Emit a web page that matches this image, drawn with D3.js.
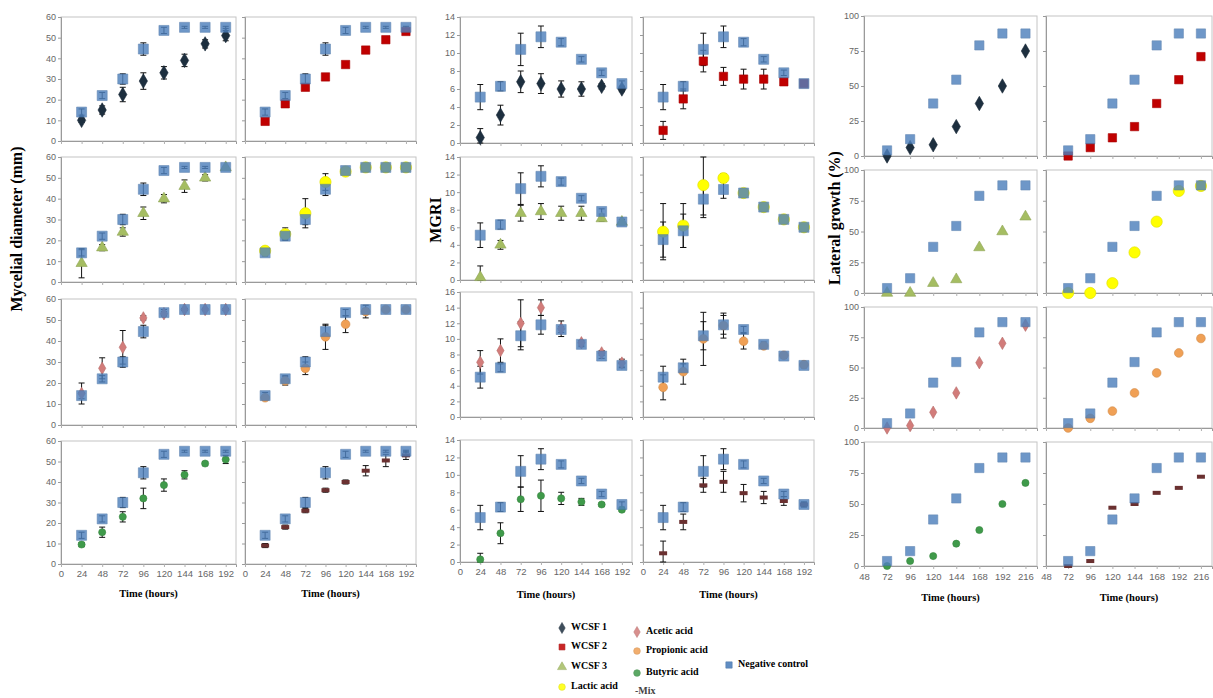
<!DOCTYPE html>
<html><head><meta charset="utf-8">
<script src="https://cdn.jsdelivr.net/npm/d3@7"></script>
<style>body{margin:0;background:#fff;overflow:hidden} svg{display:block}</style>
</head><body>
<svg id="c" width="1213" height="698"></svg>
<script>
// ---------------- DATA ----------------
const hoursDia = [24,48,72,96,120,144,168,192];
const hoursMgri = [24,48,72,96,120,144,168,192];
const hoursLat = [72,96,120,144,168,192,216];
const treatments = ["WCSF 1","WCSF 2","WCSF 3","Lactic acid","Acetic acid","Propionic acid","Butyric acid","Mix"];
const controlName = "Negative control";

const diaTicksX = [0,24,48,72,96,120,144,168,192];
const latTicksX = [48,72,96,120,144,168,192,216];
const diaTicksY = [0,10,20,30,40,50,60];
const mgriTicksY = [0,2,4,6,8,10,12,14];
const mgriTicksY16 = [0,2,4,6,8,10,12,14,16];
const latTicksY = [0,25,50,75,100];

// Mycelial diameter (mm)
const diaControl    = [14,22,30,44.5,53.5,55,55,55];
const diaControlErr = [1.5,1.5,2.5,3,1.5,0.5,0.5,0.5];
const diaWCSF1      = [10,15,22.5,29,33,39,47,51];
const diaWCSF1Err   = [1,2,3.5,4,3,3,2,2.5];
const diaWCSF2      = [9.5,18,26,31,37,44,49,53];
const diaWCSF2Err   = [1,1,1,1,1,1,1,1];
const diaWCSF3      = [9,16.5,24,33,40,46,50,55];
const diaWCSF3Err   = [7,1.5,2,3,2,3,1.5,0];
const diaLactic     = [15,23,33,48,53,55,55,55];
const diaLacticErr  = [1,3,7,4,1,0.5,0.5,0.5];
const diaAcetic     = [15,27,37,51,53,55,55,55];
const diaAceticErr  = [5,5,8,1,1,0.5,0.5,0.5];
const diaPropionic  = [13,21,27,42,48,54,55,55];
const diaPropionicErr=[1,2,3,6,4,3,0.5,0.5];
const diaButyric    = [9.5,15.5,23,32,38.5,43.5,49,51];
const diaButyricErr = [1,2.5,2.5,5,3,2,1,2];
const diaMix        = [9,18,26,36,40,45.5,50.5,53];
const diaMixErr     = [1,1,1,1,1,2.5,3,2];

// MGRI
const mgriControl      = [5.1,6.3,10.4,11.8,11.2,9.3,7.8,6.6];
const mgriControlErr   = [1.4,0.5,1.8,1.2,0.4,0.3,0.3,0.3];
const mgriControlLactic= [4.6,5.6,9.2,10.3,9.9,8.3,6.9,6.0];
const mgriControlLacticErr=[2,1.9,1.8,1,0.4,0.2,0.2,0.2];
const mgriWCSF1     = [0.6,3.1,6.8,6.6,6.0,6.0,6.3,6.0];
const mgriWCSF1Err  = [1,1.1,1.2,1.1,0.9,0.8,0.3,0.3];
const mgriWCSF2     = [1.4,4.9,9.1,7.4,7.1,7.1,6.8,6.6];
const mgriWCSF2Err  = [1,1.1,1.2,1,1.1,1.1,0.3,0.3];
const mgriWCSF3     = [0.3,4.0,7.6,7.8,7.6,7.6,7.0,6.6];
const mgriWCSF3Err  = [1.3,0.5,0.9,0.9,0.8,0.8,0.3,0.3];
const mgriLactic    = [5.5,6.2,10.8,11.6,9.9,8.3,6.9,6.0];
const mgriLacticErr = [3.2,2.5,3.7,0.5,0.3,0.3,0.3,0.3];
const mgriAcetic    = [7.0,8.5,12.0,14.0,11.3,9.5,8.2,6.9];
const mgriAceticErr = [1.5,1.5,3,1,1,0.3,0.3,0.5];
const mgriPropionic = [3.8,5.8,10.0,11.7,9.7,9.1,7.9,6.7];
const mgriPropionicErr=[1.6,1.6,3.4,1.6,1,0.3,0.2,0.2];
const mgriButyric   = [0.3,3.3,7.2,7.6,7.3,6.9,6.6,6.0];
const mgriButyricErr= [0.7,1.2,1.4,1.8,0.7,0.4,0.2,0.2];
const mgriMix       = [1.0,4.6,8.8,9.2,7.9,7.4,7.0,6.6];
const mgriMixErr    = [1.4,0.9,0.8,1.2,1,0.7,0.5,0.2];

// Lateral growth (%)
const latControl   = [4,12,37.5,54.5,79,87.5,87.5];
const latWCSF1     = [0,6,8,21,37.5,50,75];
const latWCSF2     = [0,6,13,21,37.5,54.5,71];
const latWCSF3     = [0,0,8,11,37,50,62];
const latLactic    = [0,0,8,33,58,83,87];
const latAcetic    = [0,2,13,29,54,70,85];
const latPropionic = [0,8,14,29,45.5,62,74];
const latButyric   = [0,4,8,18,29,50,67];
const latMix       = [0,4,47,50,59,63,72];

// ---------------- STYLES / LAYOUT ----------------
const styles = [
  {type:"diamond", fill:"#1d2f3f", size:60},
  {type:"square",  fill:"#c00000", size:70},
  {type:"triangle",fill:"#a5bd62", size:55},
  {type:"circle",  fill:"#ffff00", size:100},
  {type:"diamond", fill:"#d27c7a", size:45},
  {type:"circle",  fill:"#f0a055", size:60},
  {type:"circle",  fill:"#3f9a4a", size:40},
  {type:"dash",    fill:"#6a3030", size:0}
];
const ctrlStyle = {type:"square", fill:"#4f81bd", size:100};

const diaVals = [diaWCSF1,diaWCSF2,diaWCSF3,diaLactic,diaAcetic,diaPropionic,diaButyric,diaMix];
const diaErrs = [diaWCSF1Err,diaWCSF2Err,diaWCSF3Err,diaLacticErr,diaAceticErr,diaPropionicErr,diaButyricErr,diaMixErr];
const mgriVals = [mgriWCSF1,mgriWCSF2,mgriWCSF3,mgriLactic,mgriAcetic,mgriPropionic,mgriButyric,mgriMix];
const mgriErrs = [mgriWCSF1Err,mgriWCSF2Err,mgriWCSF3Err,mgriLacticErr,mgriAceticErr,mgriPropionicErr,mgriButyricErr,mgriMixErr];
const latVals = [latWCSF1,latWCSF2,latWCSF3,latLactic,latAcetic,latPropionic,latButyric,latMix];

const groups = [
  {cols:[[61,236],[245,416]], rows:[[17,141],[157,282],[299,425],[441,564]],
   xd:[0,204], xt:diaTicksX, yd:[[0,60],[0,60],[0,60],[0,60]], yt:[diaTicksY,diaTicksY,diaTicksY,diaTicksY],
   hours:hoursDia, vals:diaVals, errs:diaErrs, ctrl:i=>[diaControl,diaControlErr], ctrlSize:100,
   xlabY:578, titleY:595, ylab:"Mycelial diameter (mm)", ylabX:18, ylabY:229},
  {cols:[[460,632],[643,814]], rows:[[17,143],[157,280],[292,417],[440,562]],
   xd:[0,204], xt:diaTicksX, yd:[[0,14],[0,14],[0,16],[0,14]], yt:[mgriTicksY,mgriTicksY,mgriTicksY16,mgriTicksY],
   hours:hoursMgri, vals:mgriVals, errs:mgriErrs,
   ctrl:i=> i===3 ? [mgriControlLactic,mgriControlLacticErr] : [mgriControl,mgriControlErr], ctrlSize:100,
   xlabY:576, titleY:596, ylab:"MGRI", ylabX:437, ylabY:220},
  {cols:[[864,1037],[1046,1212]], rows:[[16,156],[170,293],[307,428],[442,566]],
   xd:[48,228], xt:latTicksX, yd:[[0,100],[0,100],[0,100],[0,100]], yt:[latTicksY,latTicksY,latTicksY,latTicksY],
   hours:hoursLat, vals:latVals, errs:null, ctrl:i=>[latControl,null], ctrlSize:85,
   xlabY:581, titleY:599, ylab:"Lateral growth (%)", ylabX:836, ylabY:218}
];

const svg = d3.select("#c");
const tickFont = "Liberation Sans, Arial, sans-serif";
const serif = "Liberation Serif, Times New Roman, serif";

function drawMarker(sel, st, x, y, opacity) {
  if (st.type === "dash") {
    sel.append("rect").attr("x", x-4).attr("y", y-2).attr("width", 8).attr("height", 4)
      .attr("fill", st.fill).attr("opacity", opacity||1);
    return;
  }
  const sym = {diamond:d3.symbolDiamond, square:d3.symbolSquare, triangle:d3.symbolTriangle, circle:d3.symbolCircle}[st.type];
  sel.append("path").attr("d", d3.symbol().type(sym).size(st.size)())
    .attr("transform", `translate(${x},${y})`)
    .attr("fill", st.fill).attr("opacity", opacity||1)
    .attr("stroke", d3.color(st.fill).darker(0.4)).attr("stroke-width", 0.6);
}

function drawErr(g, x, y0, y1) {
  g.append("line").attr("x1",x).attr("x2",x).attr("y1",y0).attr("y2",y1).attr("stroke","#111").attr("stroke-width",1);
  [y0,y1].forEach(yy => g.append("line").attr("x1",x-3).attr("x2",x+3).attr("y1",yy).attr("y2",yy).attr("stroke","#111").attr("stroke-width",1));
}

groups.forEach((G) => {
  G.rows.forEach((r, ri) => {
    G.cols.forEach((c, ci) => {
      const ti = ri*2 + ci;
      const x = d3.scaleLinear().domain(G.xd).range(c);
      const y = d3.scaleLinear().domain(G.yd[ri]).range([r[1], r[0]]);
      const yc = y.copy().clamp(true);
      const g = svg.append("g");
      g.append("rect").attr("x", c[0]).attr("y", r[0]).attr("width", c[1]-c[0]).attr("height", r[1]-r[0])
        .attr("fill","none").attr("stroke","#c4c4c4").attr("stroke-width",1);
      const ya = d3.axisLeft(y).tickValues(G.yt[ri]).tickSize(3).tickFormat(ci===0 ? d3.format("d") : "");
      const yg = g.append("g").attr("transform", `translate(${c[0]},0)`).call(ya);
      yg.select(".domain").attr("stroke","#9a9a9a");
      yg.selectAll(".tick line").attr("stroke","#9a9a9a");
      yg.selectAll("text").attr("fill","#666").style("font-family",tickFont).style("font-size","9px").attr("x",-5);
      const last = ri === G.rows.length-1;
      const xa = d3.axisBottom(x).tickValues(G.xt).tickSize(3).tickFormat(last ? d3.format("d") : "");
      const xg = g.append("g").attr("transform", `translate(0,${r[1]})`).call(xa);
      xg.select(".domain").attr("stroke","#9a9a9a");
      xg.selectAll(".tick line").attr("stroke","#b0b0b0");
      xg.selectAll("text").attr("fill","#666").style("font-family",tickFont).style("font-size","9.5px")
        .attr("y", G.xlabY - r[1] - 8).attr("dy","0.71em");
      if (last) {
        g.append("text").attr("x", (c[0]+c[1])/2).attr("y", G.titleY).attr("text-anchor","middle")
          .attr("dominant-baseline","middle")
          .style("font-family",serif).style("font-weight","bold").style("font-size","10.5px").text("Time (hours)");
      }
      const vals = G.vals[ti], errs = G.errs ? G.errs[ti] : null;
      const [cv, ce] = G.ctrl(ti);
      const pts = g.append("g");
      if (errs) {
        G.hours.forEach((h,k) => { if (errs[k] > 0.05) drawErr(pts, x(h), yc(vals[k]-errs[k]), yc(vals[k]+errs[k])); });
      }
      if (ce) {
        G.hours.forEach((h,k) => { if (ce[k] > 0.05) drawErr(pts, x(h), yc(cv[k]-ce[k]), yc(cv[k]+ce[k])); });
      }
      G.hours.forEach((h,k) => drawMarker(pts, styles[ti], x(h), y(vals[k]), 1));
      const cs = Object.assign({}, ctrlStyle, {size:G.ctrlSize});
      G.hours.forEach((h,k) => drawMarker(pts, cs, x(h), y(cv[k]), 0.82));
    });
  });
  svg.append("text").attr("transform", `translate(${G.ylabX},${G.ylabY}) rotate(-90)`)
    .attr("text-anchor","middle").attr("dominant-baseline","middle")
    .style("font-family",serif).style("font-weight","bold").style("font-size","16px").text(G.ylab);
});

// ---------------- LEGEND ----------------
const legendPos = [[562,628],[562,647],[562,667],[562,687],[637,632],[637,651],[637,673],[637,692]];
const leg = svg.append("g");
treatments.forEach((t,i) => {
  const [lx, ly] = legendPos[i];
  const st = Object.assign({}, styles[i]);
  if (st.type === "dash") {
    leg.append("text").attr("x", lx-2).attr("y", ly).attr("dominant-baseline","middle")
      .style("font-family",serif).style("font-weight","bold").style("font-size","10px").attr("fill","#444").text("-" + t);
    return;
  }
  st.size = Math.min(st.size, 35);
  drawMarker(leg, st, lx, ly, 0.85);
  leg.append("text").attr("x", lx+9).attr("y", ly).attr("dominant-baseline","middle")
    .style("font-family",serif).style("font-weight","bold").style("font-size","10px").text(t);
});
drawMarker(leg, Object.assign({}, ctrlStyle, {size:40}), 729, 665, 0.9);
leg.append("text").attr("x", 738).attr("y", 665).attr("dominant-baseline","middle")
  .style("font-family",serif).style("font-weight","bold").style("font-size","10px").text(controlName);
</script>
</body></html>
